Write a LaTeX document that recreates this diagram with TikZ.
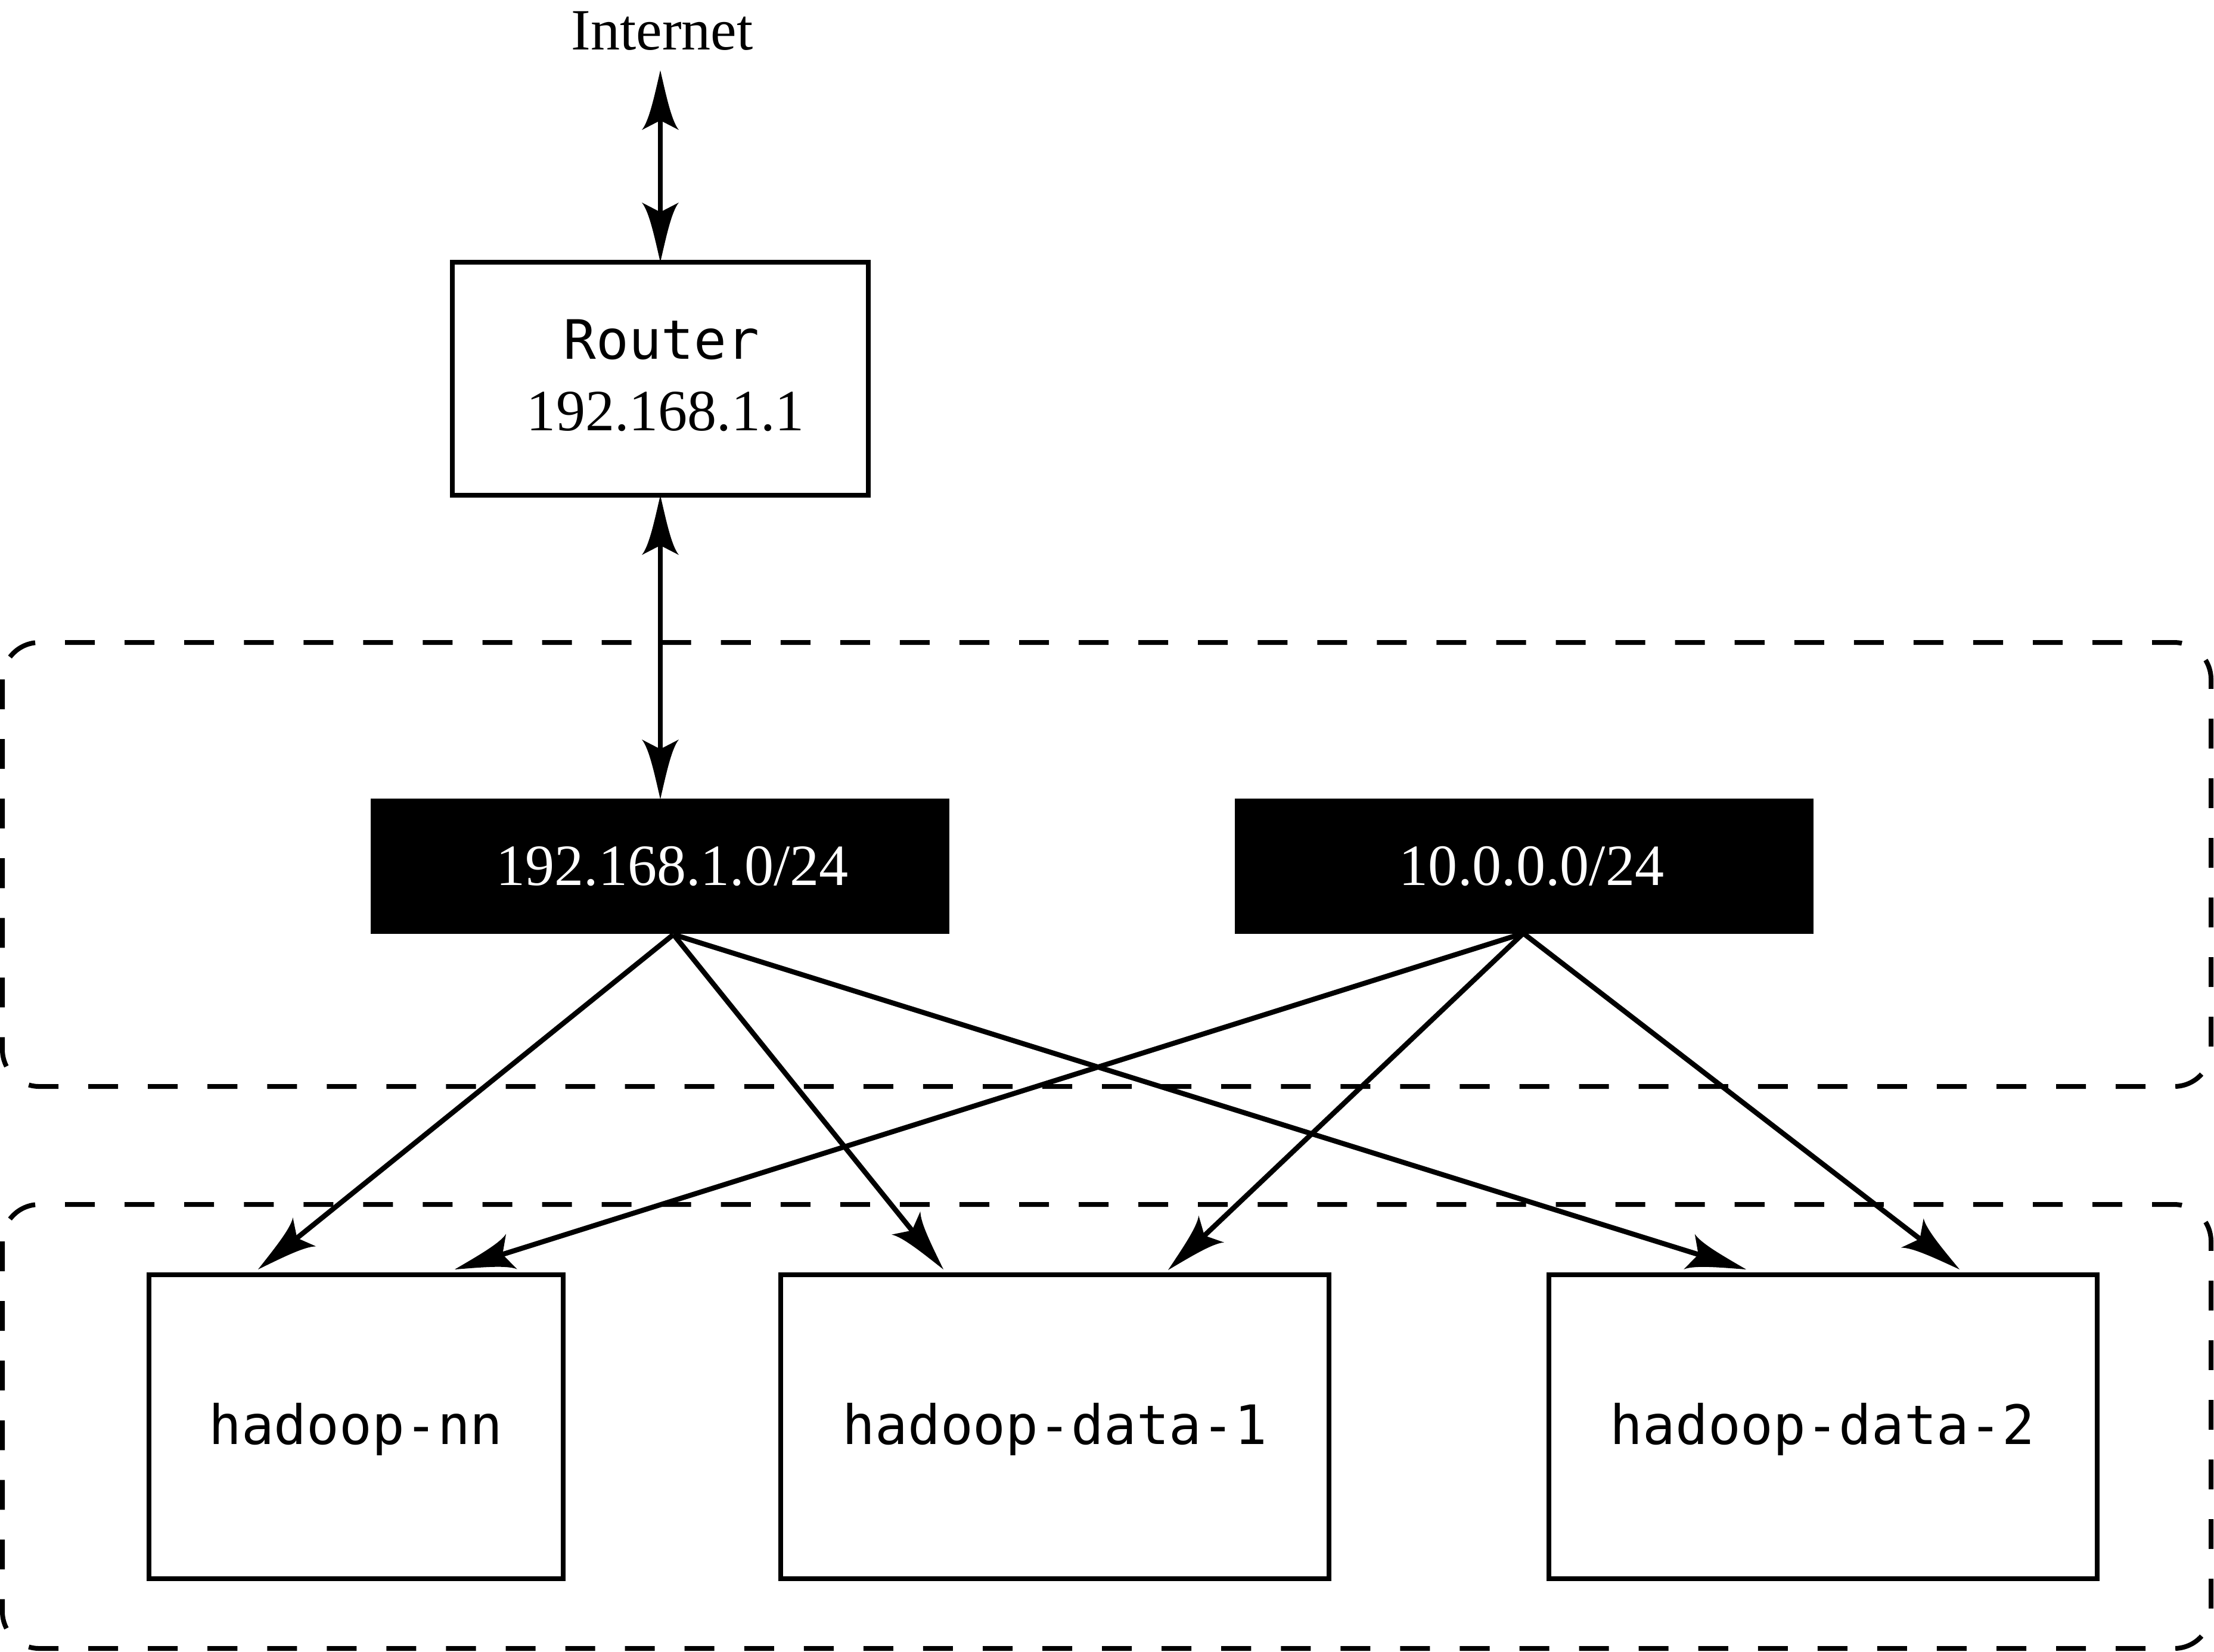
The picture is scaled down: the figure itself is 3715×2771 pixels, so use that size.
\documentclass[tikz,border=0pt]{standalone}
\usepackage{fontspec}
\setmainfont{Liberation Serif}
\newfontfamily\monof{DejaVu Sans Mono}
\usetikzlibrary{arrows.meta}
\pgfdeclarearrow{
  name = CStealth,
  parameters = {\the\pgfarrowlength,\the\pgfarrowwidth},
  setup code = {
    \pgfarrowssettipend{0pt}
    \pgfarrowssetbackend{-\pgfarrowlength}
    \pgfarrowssetlineend{-0.8\pgfarrowlength}
    \pgfarrowssavethe\pgfarrowlength
    \pgfarrowssavethe\pgfarrowwidth
  },
  drawing code = {
    \pgfpathmoveto{\pgfpointorigin}
    \pgfpathcurveto{\pgfpoint{-0.4\pgfarrowlength}{0.15\pgfarrowwidth}}{\pgfpoint{-0.85\pgfarrowlength}{0.3\pgfarrowwidth}}{\pgfpoint{-\pgfarrowlength}{0.5\pgfarrowwidth}}
    \pgfpathlineto{\pgfpoint{-0.84\pgfarrowlength}{0pt}}
    \pgfpathlineto{\pgfpoint{-\pgfarrowlength}{-0.5\pgfarrowwidth}}
    \pgfpathcurveto{\pgfpoint{-0.85\pgfarrowlength}{-0.3\pgfarrowwidth}}{\pgfpoint{-0.4\pgfarrowlength}{-0.15\pgfarrowwidth}}{\pgfpointorigin}
    \pgfpathclose
    \pgfusepathqfill
  },
  defaults = {length=1cm, width=0.62cm}
}
\tikzset{
  lw/.style={line width=0.085cm},
  boxnode/.style={draw=black, line width=0.08cm, fill=white, inner sep=0pt, outer sep=0pt},
  blacknode/.style={draw=black, fill=black, line width=0.01cm, inner sep=0pt, outer sep=0pt},
  serif/.style={font=\fontsize{27.9pt}{30pt}\selectfont, inner sep=0pt, anchor=base},
  mono/.style={font=\fontsize{25.9pt}{28pt}\selectfont\monof, inner sep=0pt, anchor=base},
  zone/.style={line width=0.08cm, dash pattern=on 0.5cm off 0.5cm, rounded corners=0.62cm},
  conn/.style={lw, -{CStealth[length=1cm, width=0.62cm]}},
  dbl/.style={lw, {CStealth[length=1cm, width=0.62cm]}-{CStealth[length=1cm, width=0.62cm]}},
}
\begin{document}
\begin{tikzpicture}[x=0.01cm, y=-0.01cm]
\useasboundingbox (0,0) rectangle (3715,2771);
% zones
\draw[zone] (4,1078) rectangle (3710,1823);
\draw[zone] (4,2021) rectangle (3710,2766);
% internet
\node[serif] (inet) at (1111,83) {Internet};
\coordinate (inettip) at (1108,118);
% router
\node[boxnode, minimum width=6.98cm, minimum height=3.91cm] (router) at (1108,635.5) {};
\node[mono] (rtname) at (1110,602) {Router};
\node[serif] (rtip) at (1117,722) {192.168.1.1};
% networks
\node[blacknode, minimum width=9.69cm, minimum height=2.25cm] (net1) at (1107.5,1453.5) {};
\node[serif, text=white] (net1lbl) at (1128,1485) {192.168.1.0/24};
\node[blacknode, minimum width=9.69cm, minimum height=2.25cm] (net2) at (2557.5,1453.5) {};
\node[serif, text=white] (net2lbl) at (2570,1485) {10.0.0.0/24};
% hosts
\node[boxnode, minimum width=6.95cm, minimum height=5.10cm] (nn) at (597.5,2394) {};
\node[mono] (nnlbl) at (597,2423) {hadoop-nn};
\node[boxnode, minimum width=9.20cm, minimum height=5.10cm] (d1) at (1770,2394) {};
\node[mono] (d1lbl) at (1770,2423) {hadoop-data-1};
\node[boxnode, minimum width=9.20cm, minimum height=5.10cm] (d2) at (3059,2394) {};
\node[mono] (d2lbl) at (3058,2423) {hadoop-data-2};
% vertical connectors
\draw[dbl] (inettip) -- (router.north);
\draw[dbl] (router.south) -- (router.south |- net1.north);
% apexes
\coordinate (ap1) at (1130,1568);
\coordinate (ap2) at (2556,1566);
% targets
\coordinate (t1nn) at (433,2130);
\coordinate (t1d1) at (1583,2130);
\coordinate (t1d2) at (2930,2130);
\coordinate (t2nn) at (763,2130);
\coordinate (t2d1) at (1960,2131);
\coordinate (t2d2) at (3288,2130);
\draw[conn] (ap1) -- (t1nn);
\draw[conn] (ap1) -- (t1d1);
\draw[conn] (ap1) -- (t1d2);
\draw[conn] (ap2) -- (t2nn);
\draw[conn] (ap2) -- (t2d1);
\draw[conn] (ap2) -- (t2d2);
\end{tikzpicture}
\end{document}
